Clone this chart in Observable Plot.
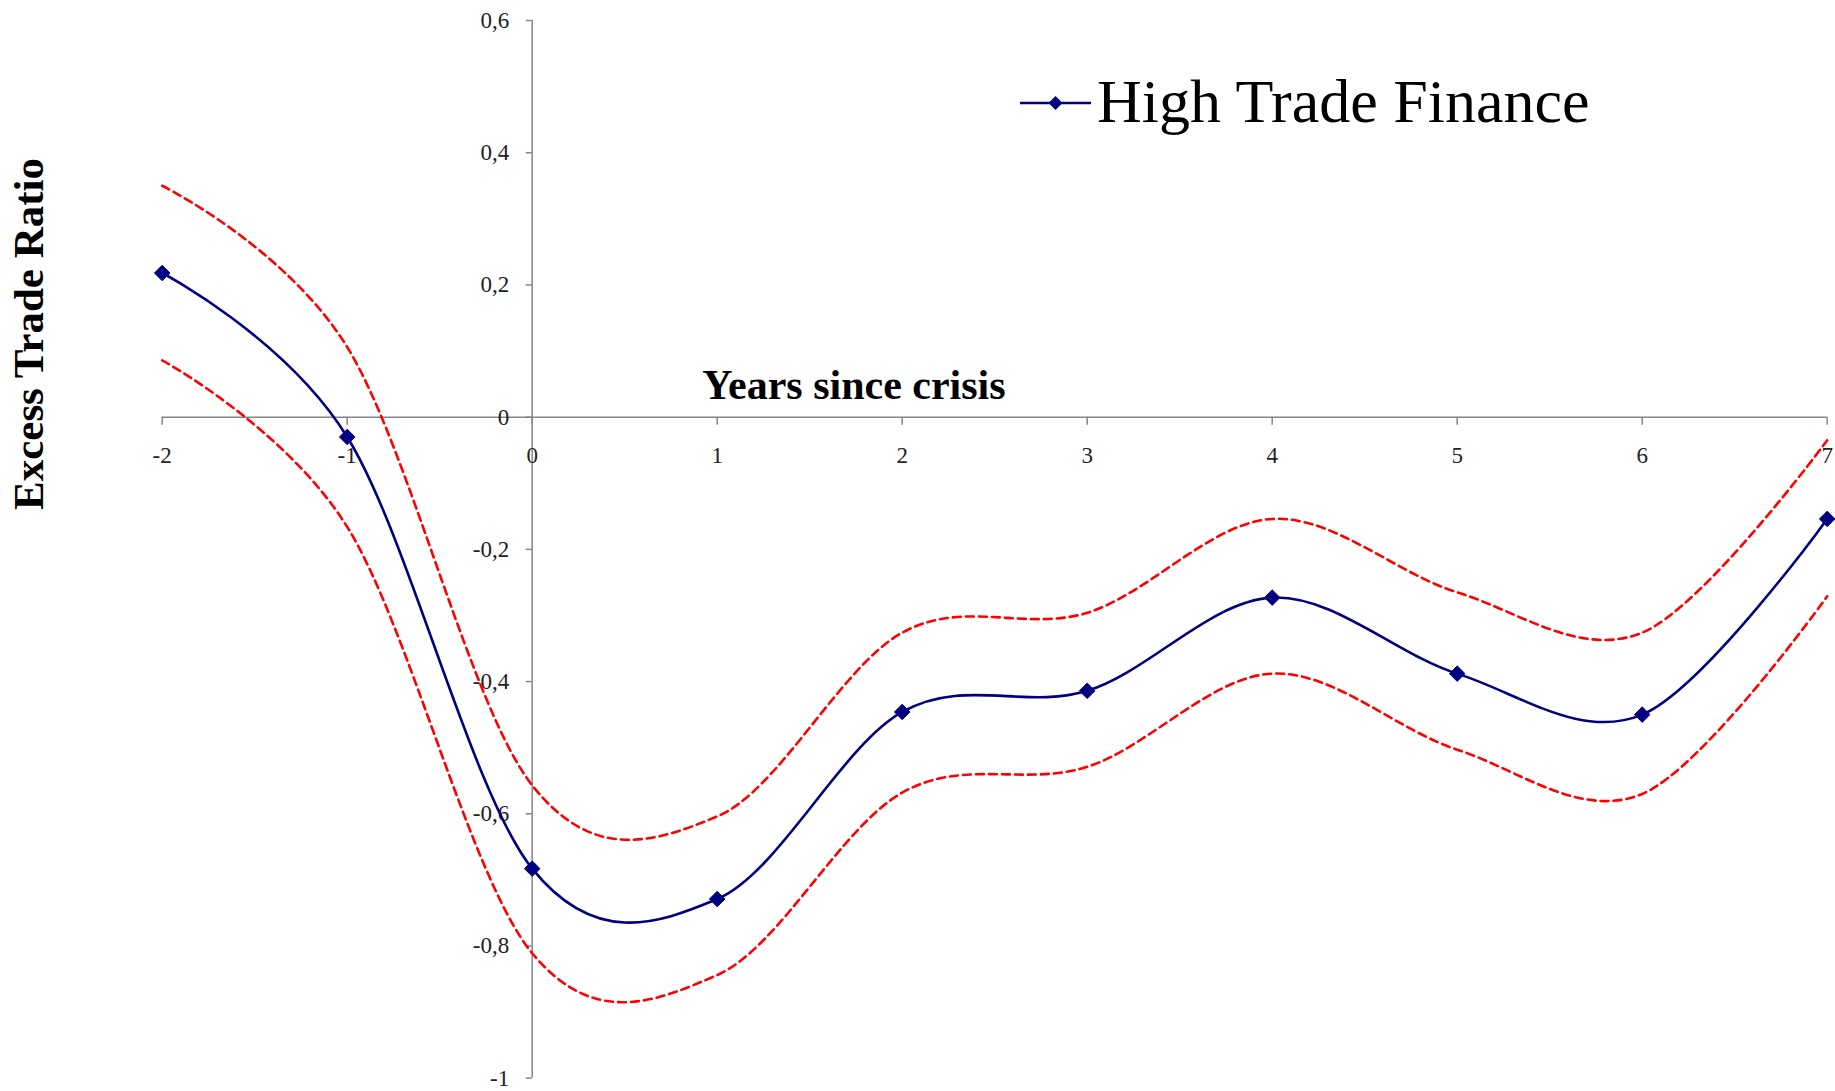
<!DOCTYPE html>
<html>
<head>
<meta charset="utf-8">
<script src="https://cdn.jsdelivr.net/npm/d3@7"></script>
<script src="https://cdn.jsdelivr.net/npm/@observablehq/plot@0.6"></script>
<style>
  html, body { margin: 0; padding: 0; background: #fff; }
  #wrap { position: relative; width: 1835px; height: 1091px; overflow: hidden; font-family: "Liberation Serif", "DejaVu Serif", serif; }
  #wrap svg { display: block; }
  .ov { position: absolute; white-space: nowrap; line-height: 1; color: #000; }
</style>
</head>
<body>
<div id="wrap"></div>
<script>
// ---- Data ----
const years = [-2, -1, 0, 1, 2, 3, 4, 5, 6, 7];
const highTradeFinance = [0.218, -0.030, -0.683, -0.729, -0.446, -0.414, -0.273, -0.388, -0.450, -0.154];
const upperBand = [0.350, 0.106, -0.557, -0.604, -0.326, -0.296, -0.154, -0.265, -0.326, -0.035];
const lowerBand = [0.086, -0.166, -0.811, -0.844, -0.568, -0.529, -0.388, -0.503, -0.570, -0.271];
const xTicks = [-2, -1, 0, 1, 2, 3, 4, 5, 6, 7];
const yTicks = [0.6, 0.4, 0.2, 0, -0.2, -0.4, -0.6, -0.8, -1];
const seriesName = "High Trade Finance";
const xTitle = "Years since crisis";
const yTitle = "Excess Trade Ratio";

// ---- Layout ----
const W = 1835, H = 1091;
const mL = 161.7, mR = 8.3, mT = 20, mB = 13.3;
const xDomain = [-2, 7], yDomain = [-1, 0.6];
const axisColor = "#868686";
const labelColor = "#222";
const fontFamily = '"Liberation Serif", "DejaVu Serif", serif';
const tickFont = 23;

const mainRows = years.map((x, i) => ({x, y: highTradeFinance[i]}));
const upperRows = years.map((x, i) => ({x, y: upperBand[i]}));
const lowerRows = years.map((x, i) => ({x, y: lowerBand[i]}));

const yS = Plot.scale({y: {domain: yDomain, range: [H - mB, mT]}});
const xS = Plot.scale({x: {domain: xDomain, range: [mL, W - mR]}});
const y0 = yS.apply(0);
const x0 = xS.apply(0);

const fmt = d => String(d).replace(".", ",");

const chart = Plot.plot({
  width: W,
  height: H,
  marginLeft: mL, marginRight: mR, marginTop: mT, marginBottom: mB,
  style: {fontFamily, fontSize: tickFont + "px", background: "white", overflow: "visible"},
  x: {domain: xDomain, axis: null},
  y: {domain: yDomain, axis: null},
  marks: [
    Plot.ruleY([0], {stroke: axisColor, strokeWidth: 1.5}),
    Plot.ruleX([0], {stroke: axisColor, strokeWidth: 1.5}),
    Plot.axisX(xTicks, {
      anchor: "bottom", dy: y0 - (H - mB), tickSize: 8, tickPadding: 22,
      stroke: axisColor, strokeWidth: 1.5, fill: labelColor, fontSize: tickFont,
      tickFormat: fmt, label: null
    }),
    Plot.axisY(yTicks, {
      anchor: "left", dx: x0 - mL, tickSize: 6, tickPadding: 17,
      stroke: axisColor, strokeWidth: 1.5, fill: labelColor, fontSize: tickFont,
      tickFormat: fmt, label: null
    }),
    Plot.line(upperRows, {x: "x", y: "y", curve: "cardinal", stroke: "#FF0000", strokeWidth: 2.6, strokeDasharray: "8,5"}),
    Plot.line(lowerRows, {x: "x", y: "y", curve: "cardinal", stroke: "#FF0000", strokeWidth: 2.6, strokeDasharray: "8,5"}),
    Plot.line(mainRows, {x: "x", y: "y", curve: "cardinal", stroke: "#000080", strokeWidth: 2.6}),
    Plot.dot(mainRows, {x: "x", y: "y", symbol: "diamond2", r: 7, fill: "#000080", stroke: "#000080", strokeWidth: 1})
  ]
});

const wrap = document.getElementById("wrap");
wrap.appendChild(chart);

// Axis titles and legend (overlaid)
const xt = document.createElement("div");
xt.className = "ov";
xt.textContent = xTitle;
xt.style.cssText = "left:854px;top:364px;transform:translateX(-50%);font-weight:bold;font-size:42px;";
wrap.appendChild(xt);

const yt = document.createElement("div");
yt.className = "ov";
yt.textContent = yTitle;
yt.style.cssText = "left:27.5px;top:334px;transform:translate(-50%,-50%) rotate(-90deg);font-weight:bold;font-size:43px;";
wrap.appendChild(yt);

const lg = document.createElement("div");
lg.className = "ov";
lg.style.cssText = "left:1020px;top:70px;display:flex;align-items:center;font-size:62px;";
lg.innerHTML = `<svg width="72" height="20" style="margin-right:5px;margin-top:4px" viewBox="0 0 72 20">
  <line x1="0" y1="10" x2="71" y2="10" stroke="#000080" stroke-width="2.5"/>
  <path d="M35.5,3 L42.5,10 L35.5,17 L28.5,10 Z" fill="#000080"/>
</svg><span></span>`;
lg.querySelector("span").textContent = seriesName;
wrap.appendChild(lg);
</script>
</body>
</html>
